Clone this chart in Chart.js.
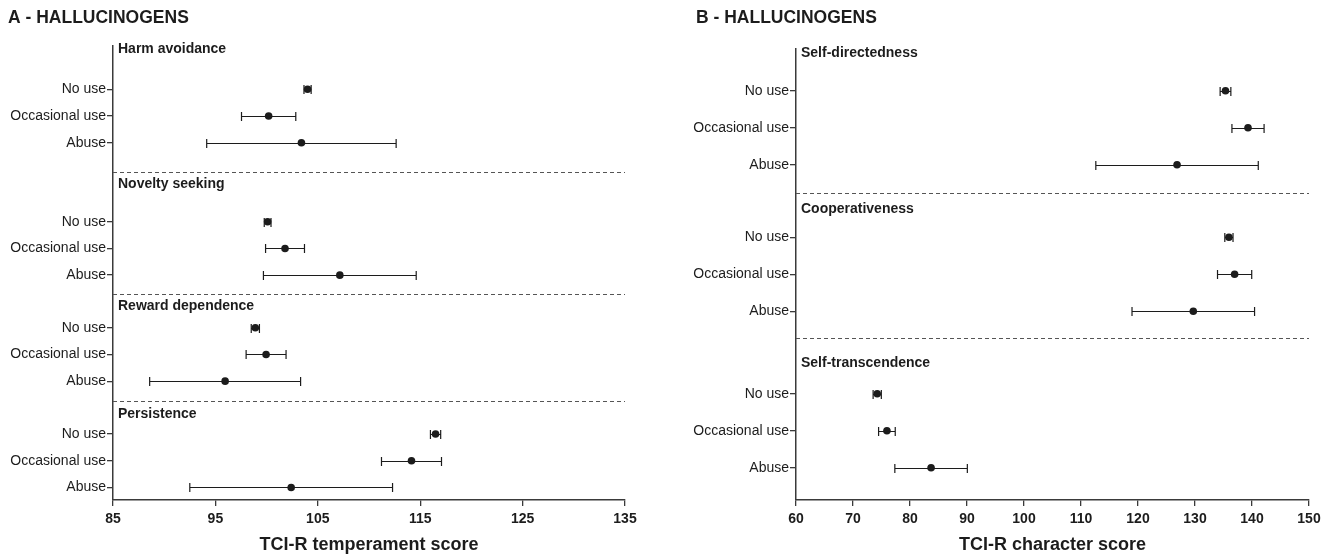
<!DOCTYPE html>
<html>
<head>
<meta charset="utf-8">
<script src="https://cdn.jsdelivr.net/npm/chart.js@4/dist/chart.umd.min.js"></script>
<style>
  html, body { margin: 0; padding: 0; background: #ffffff; }
  #wrap { position: relative; width: 1329px; height: 555px; overflow: hidden; }
  #cA { position: absolute; left: 0; top: 0; }
  #cB { position: absolute; left: 660px; top: 0; }
</style>
</head>
<body>
<div id="wrap">
  <canvas id="cA" width="660" height="555"></canvas>
  <canvas id="cB" width="669" height="555"></canvas>
</div>
<script>
// ---- groups shown in every block ----
const groupLabels = ['No use', 'Occasional use', 'Abuse'];

// ---- Panel A: temperament dimensions (mean and half-width of the interval) ----
const temperamentTraits = ['Harm avoidance', 'Novelty seeking', 'Reward dependence', 'Persistence'];
const harmAvoidanceMean    = [104.0, 100.2, 103.4];
const harmAvoidanceErr     = [0.35, 2.65, 9.25];
const noveltySeekingMean   = [100.1, 101.8, 107.15];
const noveltySeekingErr    = [0.33, 1.9, 7.46];
const rewardDependenceMean = [98.9, 99.95, 95.95];
const rewardDependenceErr  = [0.4, 1.95, 7.37];
const persistenceMean      = [116.5, 114.15, 102.4];
const persistenceErr       = [0.5, 2.93, 9.9];
const temperamentTicks     = [85, 95, 105, 115, 125, 135];

// ---- Panel B: character dimensions ----
const characterTraits = ['Self-directedness', 'Cooperativeness', 'Self-transcendence'];
const selfDirectednessMean  = [135.35, 139.3, 126.85];
const selfDirectednessErr   = [0.94, 2.82, 14.25];
const cooperativenessMean   = [135.95, 136.95, 129.7];
const cooperativenessErr    = [0.72, 3.0, 10.75];
const selfTranscendenceMean = [74.25, 75.95, 83.7];
const selfTranscendenceErr  = [0.72, 1.46, 6.36];
const characterTicks        = [60, 70, 80, 90, 100, 110, 120, 130, 140, 150];

// ---- vertical layout of each panel, in row units (one row = one group line) ----
const rowStartA  = [1.62, 6.58, 10.55, 14.53];
const titleRowA  = [0.11, 5.17, 9.73, 13.78];
const dividersA  = [4.71, 9.3, 13.29];
const rowExtentA = 17.0;

const rowStartB  = [1.13, 5.09, 9.32];
const titleRowB  = [0.12, 4.32, 8.49];
const dividersB  = [3.88, 7.82];
const rowExtentB = 12.19;

Chart.defaults.font.family = '"Liberation Sans", Arial, Helvetica, sans-serif';
Chart.defaults.color = '#1a1a1a';

const INK = '#1c1c1c';
const AXIS = '#3a3a3a';

// Error bars, dashed separators, block headings and panel title
const panelDecor = {
  id: 'panelDecor',
  beforeDatasetsDraw(chart) {
    const { ctx, scales: { x } } = chart;
    const meta = chart.getDatasetMeta(0);
    const data = chart.data.datasets[0].data;
    ctx.save();
    ctx.strokeStyle = INK;
    ctx.lineWidth = 1.2;
    meta.data.forEach((pt, i) => {
      const d = data[i];
      const y = Math.round(pt.y) + 0.5;
      const x0 = x.getPixelForValue(d.x - d.err);
      const x1 = x.getPixelForValue(d.x + d.err);
      ctx.beginPath();
      ctx.moveTo(x0, y); ctx.lineTo(x1, y);
      ctx.moveTo(x0, y - 4.5); ctx.lineTo(x0, y + 4.5);
      ctx.moveTo(x1, y - 4.5); ctx.lineTo(x1, y + 4.5);
      ctx.stroke();
    });
    ctx.restore();
  },
  afterDraw(chart, args, opts) {
    const { ctx, chartArea, scales: { y } } = chart;
    ctx.save();
    // dashed separators between blocks
    ctx.strokeStyle = '#555555';
    ctx.lineWidth = 1;
    ctx.setLineDash([4, 3]);
    opts.dividers.forEach(v => {
      const py = Math.round(y.getPixelForValue(v)) + 0.5;
      ctx.beginPath();
      ctx.moveTo(chartArea.left, py);
      ctx.lineTo(chartArea.right, py);
      ctx.stroke();
    });
    ctx.setLineDash([]);
    // block headings
    ctx.fillStyle = INK;
    ctx.textBaseline = 'middle';
    ctx.textAlign = 'left';
    ctx.font = 'bold 14px "Liberation Sans", Arial, sans-serif';
    opts.traits.forEach((t, i) => {
      ctx.fillText(t, chartArea.left + 5, y.getPixelForValue(opts.titleRows[i]));
    });
    // panel title
    ctx.font = 'bold 17.5px "Liberation Sans", Arial, sans-serif';
    ctx.fillText(opts.panelTitle, opts.panelTitleX, 18);
    ctx.restore();
  }
};

function buildPanel(canvasId, cfg) {
  const points = [];
  cfg.means.forEach((arr, g) => {
    arr.forEach((m, i) => {
      points.push({ x: m, y: cfg.rowStart[g] + i, err: cfg.errs[g][i] });
    });
  });
  const tickRows = [];
  const tickText = {};
  cfg.rowStart.forEach(s => {
    groupLabels.forEach((lab, i) => {
      tickRows.push(s + i);
      tickText[(s + i).toFixed(3)] = lab;
    });
  });

  return new Chart(document.getElementById(canvasId), {
    type: 'scatter',
    data: {
      datasets: [{
        data: points,
        pointRadius: 3.8,
        pointHoverRadius: 3.8,
        pointBackgroundColor: INK,
        pointBorderColor: INK,
        pointBorderWidth: 0
      }]
    },
    options: {
      responsive: false,
      animation: false,
      events: [],
      layout: { padding: { top: cfg.top, right: cfg.padRight, left: 0, bottom: 0 } },
      plugins: {
        legend: { display: false },
        tooltip: { enabled: false },
        panelDecor: {
          dividers: cfg.dividers,
          traits: cfg.traits,
          titleRows: cfg.titleRows,
          panelTitle: cfg.panelTitle,
          panelTitleX: cfg.panelTitleX
        }
      },
      scales: {
        x: {
          type: 'linear',
          position: 'bottom',
          min: cfg.xTicks[0],
          max: cfg.xTicks[cfg.xTicks.length - 1],
          afterBuildTicks: axis => { axis.ticks = cfg.xTicks.map(v => ({ value: v })); },
          afterFit: axis => { axis.height = cfg.xAxisHeight; },
          grid: { drawOnChartArea: false, drawTicks: true, tickLength: 6, color: AXIS, lineWidth: 1.3 },
          border: { display: true, color: AXIS, width: 1.5 },
          ticks: {
            autoSkip: false, maxRotation: 0, padding: 5,
            color: INK,
            font: { size: 14, weight: 'bold' }
          },
          title: {
            display: true,
            text: cfg.xTitle,
            color: INK,
            font: { size: 18, weight: 'bold' },
            padding: { top: 0, bottom: -1 }
          }
        },
        y: {
          type: 'linear',
          reverse: true,
          min: 0,
          max: cfg.extent,
          afterBuildTicks: axis => { axis.ticks = tickRows.map(v => ({ value: v })); },
          afterFit: axis => { axis.width = cfg.yAxisWidth; },
          grid: { drawOnChartArea: false, drawTicks: true, tickLength: 6, color: AXIS, lineWidth: 1.3 },
          border: { display: true, color: AXIS, width: 1.5 },
          ticks: {
            autoSkip: false, padding: 1,
            color: INK,
            font: { size: 14 },
            callback: v => tickText[Number(v).toFixed(3)] || ''
          }
        }
      }
    },
    plugins: [panelDecor]
  });
}

buildPanel('cA', {
  means: [harmAvoidanceMean, noveltySeekingMean, rewardDependenceMean, persistenceMean],
  errs: [harmAvoidanceErr, noveltySeekingErr, rewardDependenceErr, persistenceErr],
  traits: temperamentTraits,
  rowStart: rowStartA,
  titleRows: titleRowA,
  dividers: dividersA,
  extent: rowExtentA,
  xTicks: temperamentTicks,
  xTitle: 'TCI-R temperament score',
  panelTitle: 'A - HALLUCINOGENS',
  panelTitleX: 8,
  top: 46,
  padRight: 35,
  yAxisWidth: 113,
  xAxisHeight: 55
});

buildPanel('cB', {
  means: [selfDirectednessMean, cooperativenessMean, selfTranscendenceMean],
  errs: [selfDirectednessErr, cooperativenessErr, selfTranscendenceErr],
  traits: characterTraits,
  rowStart: rowStartB,
  titleRows: titleRowB,
  dividers: dividersB,
  extent: rowExtentB,
  xTicks: characterTicks,
  xTitle: 'TCI-R character score',
  panelTitle: 'B - HALLUCINOGENS',
  panelTitleX: 36,
  top: 49,
  padRight: 20,
  yAxisWidth: 136,
  xAxisHeight: 55
});
</script>
</body>
</html>
